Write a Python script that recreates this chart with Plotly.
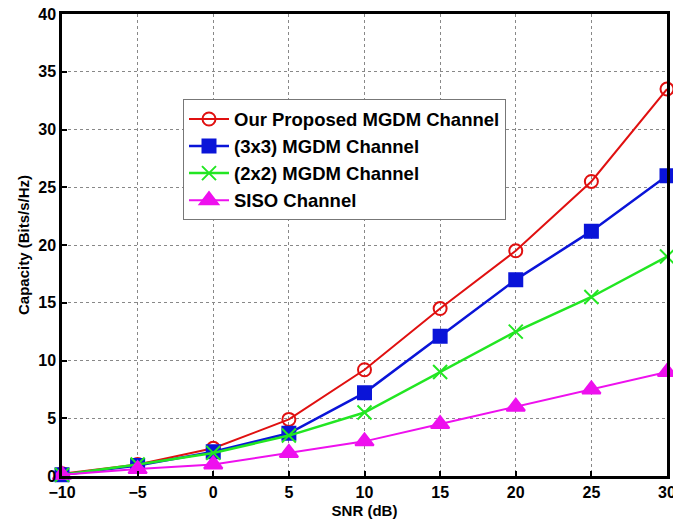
import plotly.graph_objects as go

snr = [-10, -5, 0, 5, 10, 15, 20, 25, 30]
proposed = [0.2, 1.0, 2.4, 4.9, 9.2, 14.5, 19.5, 25.5, 33.5]
mgdm3 = [0.1, 0.9, 2.1, 3.7, 7.2, 12.1, 17.0, 21.2, 26.0]
mgdm2 = [0.1, 1.0, 2.0, 3.5, 5.5, 9.0, 12.5, 15.5, 19.0]
siso = [0.1, 0.6, 1.0, 2.0, 3.0, 4.5, 6.0, 7.5, 9.0]

names = ["Our Proposed MGDM Channel", "(3x3) MGDM Channel",
         "(2x2) MGDM Channel", "SISO Channel"]
colors = ["#e01010", "#0a14d8", "#22e622", "#ee10ee"]
symbols = ["circle-open", "square", "x-thin-open", "triangle-up"]
sizes = [13, 13, 14, 16]
widths = [2, 2.5, 2.5, 2]
series = [proposed, mgdm3, mgdm2, siso]

fig = go.Figure()
for name, ys, c, s, sz, w in zip(names, series, colors, symbols, sizes, widths):
    fig.add_trace(go.Scatter(
        x=snr, y=ys, name=name, mode="lines+markers",
        line=dict(color=c, width=w),
        marker=dict(symbol=s, size=sz, color=c, line=dict(color=c, width=2)),
        cliponaxis=False,
    ))

font = "Liberation Sans"
axis_common = dict(
    showline=True, linecolor="black", linewidth=2.5, mirror=True,
    ticks="inside", ticklen=5, tickcolor="black", tickwidth=2,
    showgrid=True, gridcolor="#888888", griddash="dot", gridwidth=1,
    zeroline=False, automargin=False, ticklabeloverflow="allow",
    tickfont=dict(family=font, size=16, color="black", weight="bold"),
)
fig.update_xaxes(range=[-10, 30], dtick=5, title=dict(
    text="SNR (dB)", font=dict(family=font, size=15, color="black", weight="bold"), standoff=6),
    **axis_common)
fig.update_yaxes(range=[0, 40], dtick=5, title=dict(
    text="Capacity (Bits/s/Hz)", font=dict(family=font, size=15, color="black", weight="bold"), standoff=6),
    **axis_common)

fig.update_layout(
    width=673, height=523,
    margin=dict(l=62, r=6, t=14, b=47),
    paper_bgcolor="white", plot_bgcolor="white",
    showlegend=True,
    legend=dict(
        x=0.2, y=0.815, xanchor="left", yanchor="top",
        bgcolor="white", bordercolor="#777777", borderwidth=1,
        font=dict(family=font, size=18.5, color="black", weight="bold"),
        tracegroupgap=0, itemwidth=40,
    ),
)

fig.write_html("out.html", config={"displayModeBar": False},
               post_script="document.body.style.margin='0';")
